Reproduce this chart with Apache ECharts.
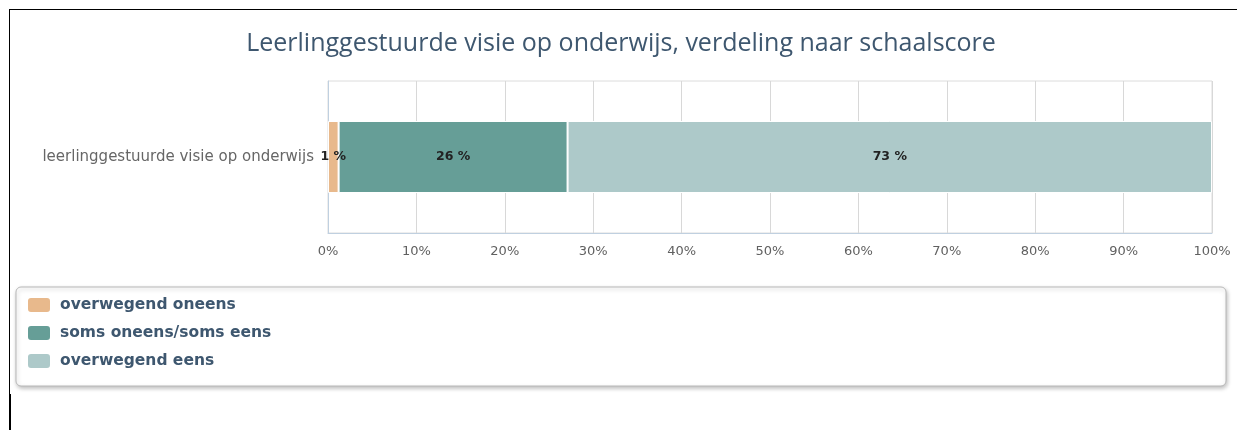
<!DOCTYPE html>
<html>
<head>
<meta charset="utf-8">
<script src="https://cdn.jsdelivr.net/npm/echarts@6/dist/echarts.min.js"></script>
<style>
  html, body { margin: 0; padding: 0; background: #fff; }
  #main { width: 1237px; height: 437px; }
</style>
</head>
<body>
<div id="main"></div>
<script>
    var categories = ['leerlinggestuurde visie op onderwijs'];
    var seriesNames = ['overwegend oneens', 'soms oneens/soms eens', 'overwegend eens'];
    var seriesValues = [[1.2], [25.9], [72.9]];
    var seriesLabels = [['1 %'], ['26 %'], ['73 %']];
    var seriesColors = ['#e8b98c', '#669e97', '#adc9c9'];
    var xTicks = [0, 10, 20, 30, 40, 50, 60, 70, 80, 90, 100];

    var myChart = echarts.init(document.getElementById('main'));

    var series = [];
    for (var i = 0; i < seriesNames.length; i++) {
        series.push({
            name: seriesNames[i],
            type: 'bar',
            stack: 'totaal',
            barWidth: 72,
            data: seriesValues[i],
            itemStyle: {
                color: seriesColors[i],
                borderColor: '#fff',
                borderWidth: 1
            },
            label: {
                show: true,
                position: 'inside',
                color: '#222',
                fontFamily: 'DejaVu Sans',
                fontWeight: 'bold',
                fontSize: 12.5,
                formatter: (function (labels) {
                    return function (p) { return labels[p.dataIndex]; };
                })(seriesLabels[i])
            },
            emphasis: { disabled: true }
        });
    }

    var option = {
        animation: false,
        title: {
            text: 'Leerlinggestuurde visie op onderwijs, verdeling naar schaalscore',
            left: 616,
            textAlign: 'center',
            top: 26,
            textStyle: {
                color: '#3e576f',
                fontFamily: 'Open Sans',
                fontWeight: 'normal',
                fontSize: 25
            }
        },
        grid: {
            left: 328,
            right: 25,
            top: 81,
            bottom: 204,
            show: true,
            borderColor: '#dcdcdc',
            borderWidth: 1
        },
        legend: {
            orient: 'vertical',
            left: 21,
            top: 291,
            itemWidth: 24,
            itemHeight: 16,
            itemGap: 10,
            icon: 'roundRect',
            data: seriesNames,
            textStyle: {
                color: '#3e576f',
                fontFamily: 'DejaVu Sans',
                fontWeight: 'bold',
                fontSize: 15.5,
                lineHeight: 16,
                padding: [0, 0, 0, 4]
            },
            selectedMode: false
        },
        xAxis: {
            type: 'value',
            min: xTicks[0],
            max: xTicks[xTicks.length - 1],
            interval: 10,
            axisLine: { show: true, lineStyle: { color: '#c0d0e0' } },
            axisTick: { show: false },
            axisLabel: {
                color: '#606060',
                fontFamily: 'DejaVu Sans',
                fontSize: 13,
                margin: 12,
                formatter: '{value}%'
            },
            splitLine: { lineStyle: { color: '#d8d8d8', width: 1 } }
        },
        yAxis: {
            type: 'category',
            data: categories,
            axisLine: { show: true, lineStyle: { color: '#c0d0e0' } },
            axisTick: { show: false },
            axisLabel: {
                color: '#666',
                fontFamily: 'DejaVu Sans',
                fontSize: 15,
                margin: 14
            }
        },
        graphic: [
            {
                type: 'rect',
                shape: { x: 16, y: 287, width: 1210, height: 99, r: 5 },
                style: {
                    fill: '#fff',
                    stroke: '#b8b8b8',
                    lineWidth: 1,
                    shadowBlur: 4,
                    shadowOffsetX: 1,
                    shadowOffsetY: 2,
                    shadowColor: 'rgba(0,0,0,0.25)'
                },
                z: -10
            },
            {
                type: 'line',
                shape: { x1: 9, y1: 9.5, x2: 1237, y2: 9.5 },
                style: { stroke: '#000', lineWidth: 1 }
            },
            {
                type: 'line',
                shape: { x1: 9.5, y1: 9, x2: 9.5, y2: 394 },
                style: { stroke: '#000', lineWidth: 1 }
            },
            {
                type: 'line',
                shape: { x1: 10, y1: 394, x2: 10, y2: 430 },
                style: { stroke: '#000', lineWidth: 2 }
            }
        ],
        series: series
    };

    myChart.setOption(option);
</script>
</body>
</html>
